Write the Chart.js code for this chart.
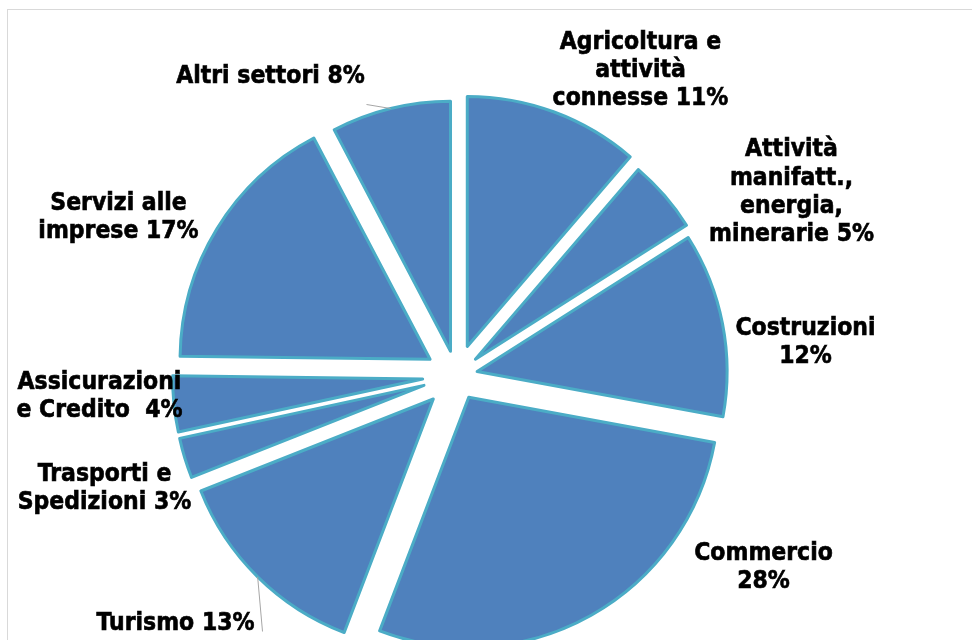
<!DOCTYPE html>
<html>
<head>
<meta charset="utf-8">
<script src="https://cdn.jsdelivr.net/npm/chart.js@4.4.1/dist/chart.umd.min.js"></script>
<style>
  html, body { margin: 0; padding: 0; background: #fff; overflow: hidden; }
  #wrap { position: relative; width: 972px; height: 640px; overflow: hidden; }
  #frame { position: absolute; left: 7px; top: 9px; width: 1200px; height: 1000px; border: 1px solid #d9d9d9; }
  canvas { position: absolute; left: 0; top: 0; }
</style>
</head>
<body>
<div id="wrap">
  <div id="frame"></div>
  <canvas id="pieChart" width="972" height="640"></canvas>
</div>
<script>
// categorie (righe come nell'etichetta originale)
const categories = [
    ['Agricoltura e', 'attività', 'connesse'],
    ['Attività', 'manifatt.,', 'energia,', 'minerarie'],
    ['Costruzioni', ''],
    ['Commercio', ''],
    ['Turismo'],
    ['Trasporti e', 'Spedizioni'],
    ['Assicurazioni', 'e Credito '],
    ['Servizi alle', 'imprese'],
    ['Altri settori']
];
// quote stimate dagli angoli delle fette (le etichette mostrano il valore arrotondato)
const shares = [11.3, 4.7, 11.9, 27.9, 13.2, 2.6, 3.6, 17.1, 7.7];

// distanza di esplosione di ogni fetta (px)
const explodeDist = [31, 25, 21, 25, 33, 34, 34, 31, 25];
// posizione etichette rispetto al centro della torta (px)
const labelAt = [[184, -305], [335, -183], [349, -33], [307, 192], [-281, 248], [-352, 113], [-357, 21], [-338, -158], [-186, -299]];
// linee guida: indice -> fine linea rispetto al centro etichetta
const leaders = { 4: [87, 8], 8: [96, 28] };

const total = shares.reduce((a, b) => a + b, 0);

function labelLines(i) {
    const lines = categories[i].slice();
    const last = lines.length - 1;
    const pct = Math.round(shares[i] / total * 100);
    lines[last] = (lines[last] + ' ' + pct + '%').replace(/^ /, '');
    return lines;
}

// sposta ogni fetta lungo la bisettrice
const explodePlugin = {
    id: 'explode',
    afterDatasetUpdate(chart, args) {
        args.meta.data.forEach((arc, i) => {
            const mid = (arc.startAngle + arc.endAngle) / 2;
            const d = explodeDist[i] || 0;
            arc.x += Math.cos(mid) * d;
            arc.y += Math.sin(mid) * d;
        });
    }
};

const labelPlugin = {
    id: 'sliceLabels',
    afterDatasetsDraw(chart) {
        const ctx = chart.ctx;
        const area = chart.chartArea;
        const cx = (area.left + area.right) / 2;
        const cy = (area.top + area.bottom) / 2;
        const arcs = chart.getDatasetMeta(0).data;
        ctx.save();
        // linee guida
        ctx.strokeStyle = '#a6a6a6';
        ctx.lineWidth = 1;
        Object.keys(leaders).forEach(k => {
            const arc = arcs[k];
            const mid = (arc.startAngle + arc.endAngle) / 2;
            const x0 = arc.x + Math.cos(mid) * arc.outerRadius;
            const y0 = arc.y + Math.sin(mid) * arc.outerRadius;
            ctx.beginPath();
            ctx.moveTo(x0, y0);
            ctx.lineTo(cx + labelAt[k][0] + leaders[k][0], cy + labelAt[k][1] + leaders[k][1]);
            ctx.stroke();
        });
        // testi (un po' più alti, come il Tahoma dell'originale)
        const sy = 1.12;
        ctx.scale(1, sy);
        ctx.fillStyle = '#000';
        ctx.strokeStyle = '#000';
        ctx.lineWidth = 0.6;
        ctx.font = 'bold 22px "DejaVu Sans"';
        ctx.textAlign = 'center';
        ctx.textBaseline = 'middle';
        const lh = 28.3;
        arcs.forEach((arc, i) => {
            const lines = labelLines(i);
            const x = cx + labelAt[i][0];
            const y0 = cy + labelAt[i][1] - (lines.length - 1) * lh / 2;
            lines.forEach((t, j) => {
                ctx.fillText(t, x, (y0 + j * lh) / sy);
                ctx.strokeText(t, x, (y0 + j * lh) / sy);
            });
        });
        ctx.restore();
    }
};

const pieCtx = document.getElementById('pieChart').getContext('2d');
const pieChart = new Chart(pieCtx, {
    type: 'pie',
    data: {
        labels: categories,
        datasets: [{
            data: shares,
            backgroundColor: '#4f81bd',
            borderColor: '#4bacc6',
            borderWidth: 3,
            borderJoinStyle: 'round'
        }]
    },
    options: {
        responsive: false,
        animation: false,
        events: [],
        radius: 250,
        layout: { padding: { left: 0, right: 59, top: 111, bottom: 0 } },
        plugins: {
            legend: { display: false },
            tooltip: { enabled: false }
        }
    },
    plugins: [explodePlugin, labelPlugin]
});
</script>
</body>
</html>
